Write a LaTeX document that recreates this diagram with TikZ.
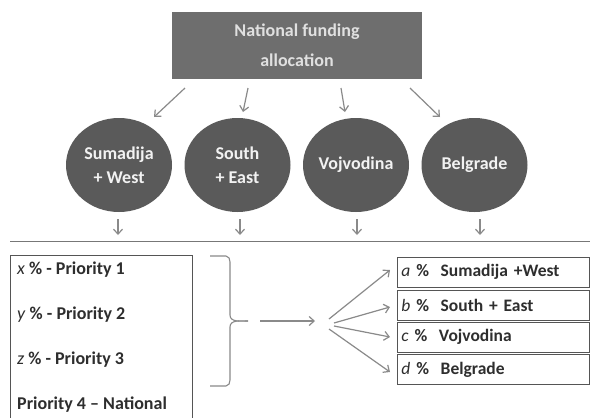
\documentclass[tikz,border=0pt]{standalone}
\usepackage{fontspec}
\setmainfont{Carlito}
\usetikzlibrary{arrows.meta,shapes.geometric}
\definecolor{boxgray}{HTML}{6E6E6E}
\definecolor{ellgray}{HTML}{5A5A5A}
\definecolor{arrgray}{HTML}{8A8A8A}
\definecolor{edgegray}{HTML}{555555}
\definecolor{txtdark}{HTML}{2E2E2E}
\tikzset{
  arr/.style={draw=arrgray, line width=1.2pt, -{Straight Barb[length=5pt,width=9pt]}},
  region/.style={ellipse, fill=ellgray, minimum width=106pt, minimum height=94pt, inner sep=0pt,
     text=white!95!black, font=\bfseries\fontsize{18}{24}\selectfont, align=center},
  rbox/.style={draw=edgegray, line width=0.9pt, minimum width=192pt, minimum height=30pt, inner sep=0pt,
     text=txtdark, anchor=west, font=\bfseries\fontsize{17.5}{20}\selectfont, align=left, text width=184pt},
  ptext/.style={anchor=west, text=txtdark, font=\bfseries\fontsize{18}{20}\selectfont, inner sep=0pt}
}
\begin{document}
\begin{tikzpicture}[x=1pt,y=-1pt]
\useasboundingbox[fill=white] (0,0) rectangle (590,418);
% top box
\node[fill=boxgray, minimum width=250pt, minimum height=67pt, inner sep=0pt, text=white!88!black,
  font=\bfseries\fontsize{18}{30}\selectfont, align=center] (top) at (297,45.5) {National funding\\allocation};
% ellipses
\node[region] (e1) at (119,165) {Sumadija\\+ West};
\node[region] (e2) at (237.5,165) {South\\+ East};
\node[region] (e3) at (356,165) {Vojvodina};
\node[region] (e4) at (474.5,165) {Belgrade};
% arrows from top box
\coordinate (t1) at (185,88); \coordinate (h1) at (154,117);
\coordinate (t2) at (248,88); \coordinate (h2) at (243,112);
\coordinate (t3) at (341,88); \coordinate (h3) at (345,112);
\coordinate (t4) at (410,88); \coordinate (h4) at (440,117);
\draw[arr] (t1) -- (h1);
\draw[arr] (t2) -- (h2);
\draw[arr] (t3) -- (h3);
\draw[arr] (t4) -- (h4);
% down arrows
\foreach \i/\x in {1/118,2/240,3/357,4/480}{
  \coordinate (d\i) at (\x,219);
  \coordinate (f\i) at (\x,235);
  \draw[arr] (d\i) -- (f\i);
}
% horizontal line
\coordinate (hl) at (10,241.5); \coordinate (hr) at (590,241.5);
\draw[draw=edgegray!80, line width=1.6pt] (hl) -- (hr);
% left box
\coordinate (lb1) at (10,420); \coordinate (lb2) at (10,255.5);
\coordinate (lb3) at (192,255.5); \coordinate (lb4) at (192,420);
\draw[edgegray, line width=0.9pt] (lb1) -- (lb2) -- (lb3) -- (lb4);
\node[ptext] (p1) at (17,270) {\textmd{\textit{x}} \% - Priority 1};
\node[ptext] (p2) at (17,315) {\textmd{\textit{y}} \% - Priority 2};
\node[ptext] (p3) at (17,360) {\textmd{\textit{z}} \% - Priority 3};
\node[ptext] (p4) at (17,405) {Priority 4 – National};
% brace
\coordinate (btop) at (210,256); \coordinate (bbot) at (210,386); \coordinate (btip) at (248,321);
\draw[arrgray, line width=1.1pt] (btop) -- (226,256) to[out=0,in=90] (230,262) -- (230,315)
  to[out=270,in=180] (btip) ;
\draw[arrgray, line width=1.1pt] (bbot) -- (226,386) to[out=0,in=270] (230,380) -- (230,327)
  to[out=90,in=180] (btip);
% middle arrow
\coordinate (ma) at (260,321); \coordinate (mb) at (315,321);
\draw[arr] (ma) -- (mb);
% right boxes
\node[rbox] (r1) at (397,272) {\textmd{\textit{a}} \% \ Sumadija +West};
\node[rbox] (r2) at (397,305) {\textmd{\textit{b}} \% \ South + East};
\node[rbox] (r3) at (397,337) {\textmd{\textit{c}} \% \ Vojvodina};
\node[rbox] (r4) at (397,369.5) {\textmd{\textit{d}} \% \ Belgrade};
% fan arrows
\coordinate (fa) at (329,319); \coordinate (fb) at (334,323);
\coordinate (fc) at (334,326); \coordinate (fd) at (329,329);
\draw[arr] (fa) -- (390,270);
\draw[arr] (fb) -- (390,307);
\draw[arr] (fc) -- (390,337);
\draw[arr] (fd) -- (390,372);
\end{tikzpicture}
\end{document}
